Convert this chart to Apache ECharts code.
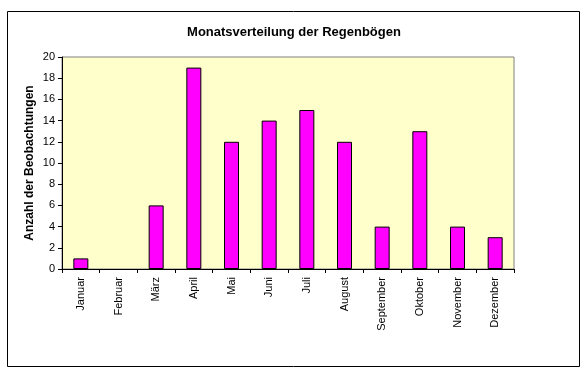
<!DOCTYPE html>
<html><head><meta charset="utf-8">
<script src="https://cdn.jsdelivr.net/npm/echarts@6/dist/echarts.min.js"></script>
<style>html,body{margin:0;padding:0;background:#fff}#c{width:588px;height:380px}</style>
</head><body><div id="c"></div>
<script>
const months = ['Januar','Februar','März','April','Mai','Juni','Juli','August','September','Oktober','November','Dezember'];
const counts = [1,0,6,19,12,14,15,12,4,13,4,3];
const chartTitle = 'Monatsverteilung der Regenbögen';
const yName = 'Anzahl der Beobachtungen';

const barData = counts.map(v => v === 0 ? {value:v,itemStyle:{borderWidth:0}} : v);

const chart = echarts.init(document.getElementById('c'), null, {renderer:'canvas'});
chart.setOption({
  animation:false,
  backgroundColor:'#fff',
  title:{text:chartTitle,left:'center',top:21,textStyle:{fontFamily:'Liberation Sans, Arial',fontWeight:'bold',fontSize:13,color:'#000'}},
  graphic:[{type:'rect',shape:{x:7.5,y:11.5,width:572,height:355},style:{fill:null,stroke:'#000',lineWidth:1},z:-1}],
  grid:{left:62,top:57,right:74,bottom:111,show:true,backgroundColor:'#FFFFCC',borderColor:'#808080',borderWidth:1},
  xAxis:{type:'category',data:months,
    axisLine:{lineStyle:{color:'#000',width:1}},
    axisTick:{show:true,length:4,lineStyle:{color:'#000'}},
    axisLabel:{rotate:90,color:'#000',fontFamily:'Liberation Sans, Arial',fontSize:11,margin:8}},
  yAxis:{type:'value',min:0,max:20,interval:2,
    name:yName,nameLocation:'middle',nameGap:26,nameMoveOverlap:false,
    nameTextStyle:{fontFamily:'Liberation Sans, Arial',fontWeight:'bold',fontSize:12,color:'#000'},
    axisLine:{show:true,lineStyle:{color:'#000',width:1}},
    axisTick:{show:true,length:4,lineStyle:{color:'#000'}},
    splitLine:{show:false},
    axisLabel:{color:'#000',fontFamily:'Liberation Sans, Arial',fontSize:11,margin:7}},
  series:[{type:'bar',data:barData,barWidth:15,
    itemStyle:{color:'#FF00FF',borderColor:'#000',borderWidth:1}}]
});
</script></body></html>
